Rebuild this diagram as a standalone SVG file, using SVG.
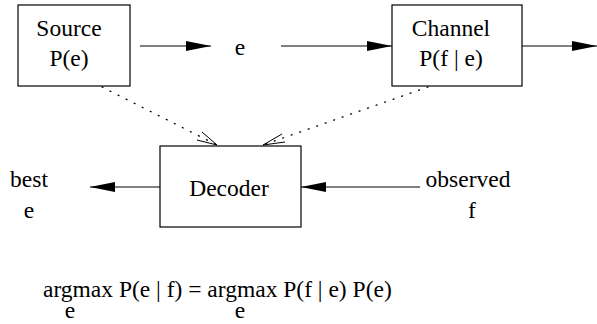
<svg xmlns="http://www.w3.org/2000/svg" width="597" height="324" viewBox="0 0 597 324">
<style>
text{font-family:"Liberation Serif","Times New Roman",Times,"DejaVu Serif",serif;font-size:23.5px;fill:#000}
.c{text-anchor:middle}
.box{fill:#fff;stroke:#000;stroke-width:1.2}
.ln{stroke:#000;stroke-width:1;fill:none}
.dot{stroke:#000;stroke-width:1.3;fill:none;stroke-dasharray:1 8;stroke-linecap:round}
.open{stroke:#000;stroke-width:1;fill:none}
</style>
<defs>
<marker id="ah" markerWidth="25" markerHeight="10" refX="25" refY="5" orient="auto" markerUnits="userSpaceOnUse">
<path d="M0,0 L25,5 L0,10 Z" fill="#000"/>
</marker>
</defs>
<rect width="597" height="324" fill="#fff"/>
<g id="source">
<rect class="box" x="18" y="5" width="112" height="81"/>
<text class="c" x="69" y="36" font-family="Liberation Serif, serif">Source</text>
<text class="c" x="69" y="66" font-family="Liberation Serif, serif">P(e)</text>
</g>
<g id="e-label">
<text class="c" x="240" y="55">e</text>
</g>
<g id="channel">
<rect class="box" x="392" y="5" width="130" height="81"/>
<text class="c" x="451" y="36">Channel</text>
<text class="c" x="451" y="66">P(f | e)</text>
</g>
<g id="decoder">
<rect class="box" x="160" y="146" width="141" height="81"/>
<text class="c" x="229" y="196">Decoder</text>
</g>
<g id="best">
<text class="c" x="29" y="187">best</text>
<text class="c" x="29" y="218">e</text>
</g>
<g id="observed">
<text class="c" x="468" y="187">observed</text>
<text class="c" x="472" y="218">f</text>
</g>
<g id="connectors">
<line class="ln" x1="140" y1="46" x2="211" y2="46" marker-end="url(#ah)"/>
<line class="ln" x1="281" y1="46" x2="392" y2="46" marker-end="url(#ah)"/>
<line class="ln" x1="522" y1="46" x2="597" y2="46" marker-end="url(#ah)"/>
<line class="ln" x1="160" y1="187" x2="90" y2="187" marker-end="url(#ah)"/>
<line class="ln" x1="420" y1="187" x2="301" y2="187" marker-end="url(#ah)"/>
<line class="dot" x1="102" y1="87" x2="217" y2="145"/>
<path class="open" d="M202,132 L217,145 L197,140"/>
<line class="dot" x1="428" y1="87" x2="263" y2="145"/>
<path class="open" d="M282,134 L263,145 L285,142"/>
</g>
<g id="formula">
<text x="43" y="297">argmax P(e | f) = argmax P(f | e) P(e)</text>
<text class="c" x="70" y="318">e</text>
<text class="c" x="240" y="318">e</text>
</g>
</svg>
